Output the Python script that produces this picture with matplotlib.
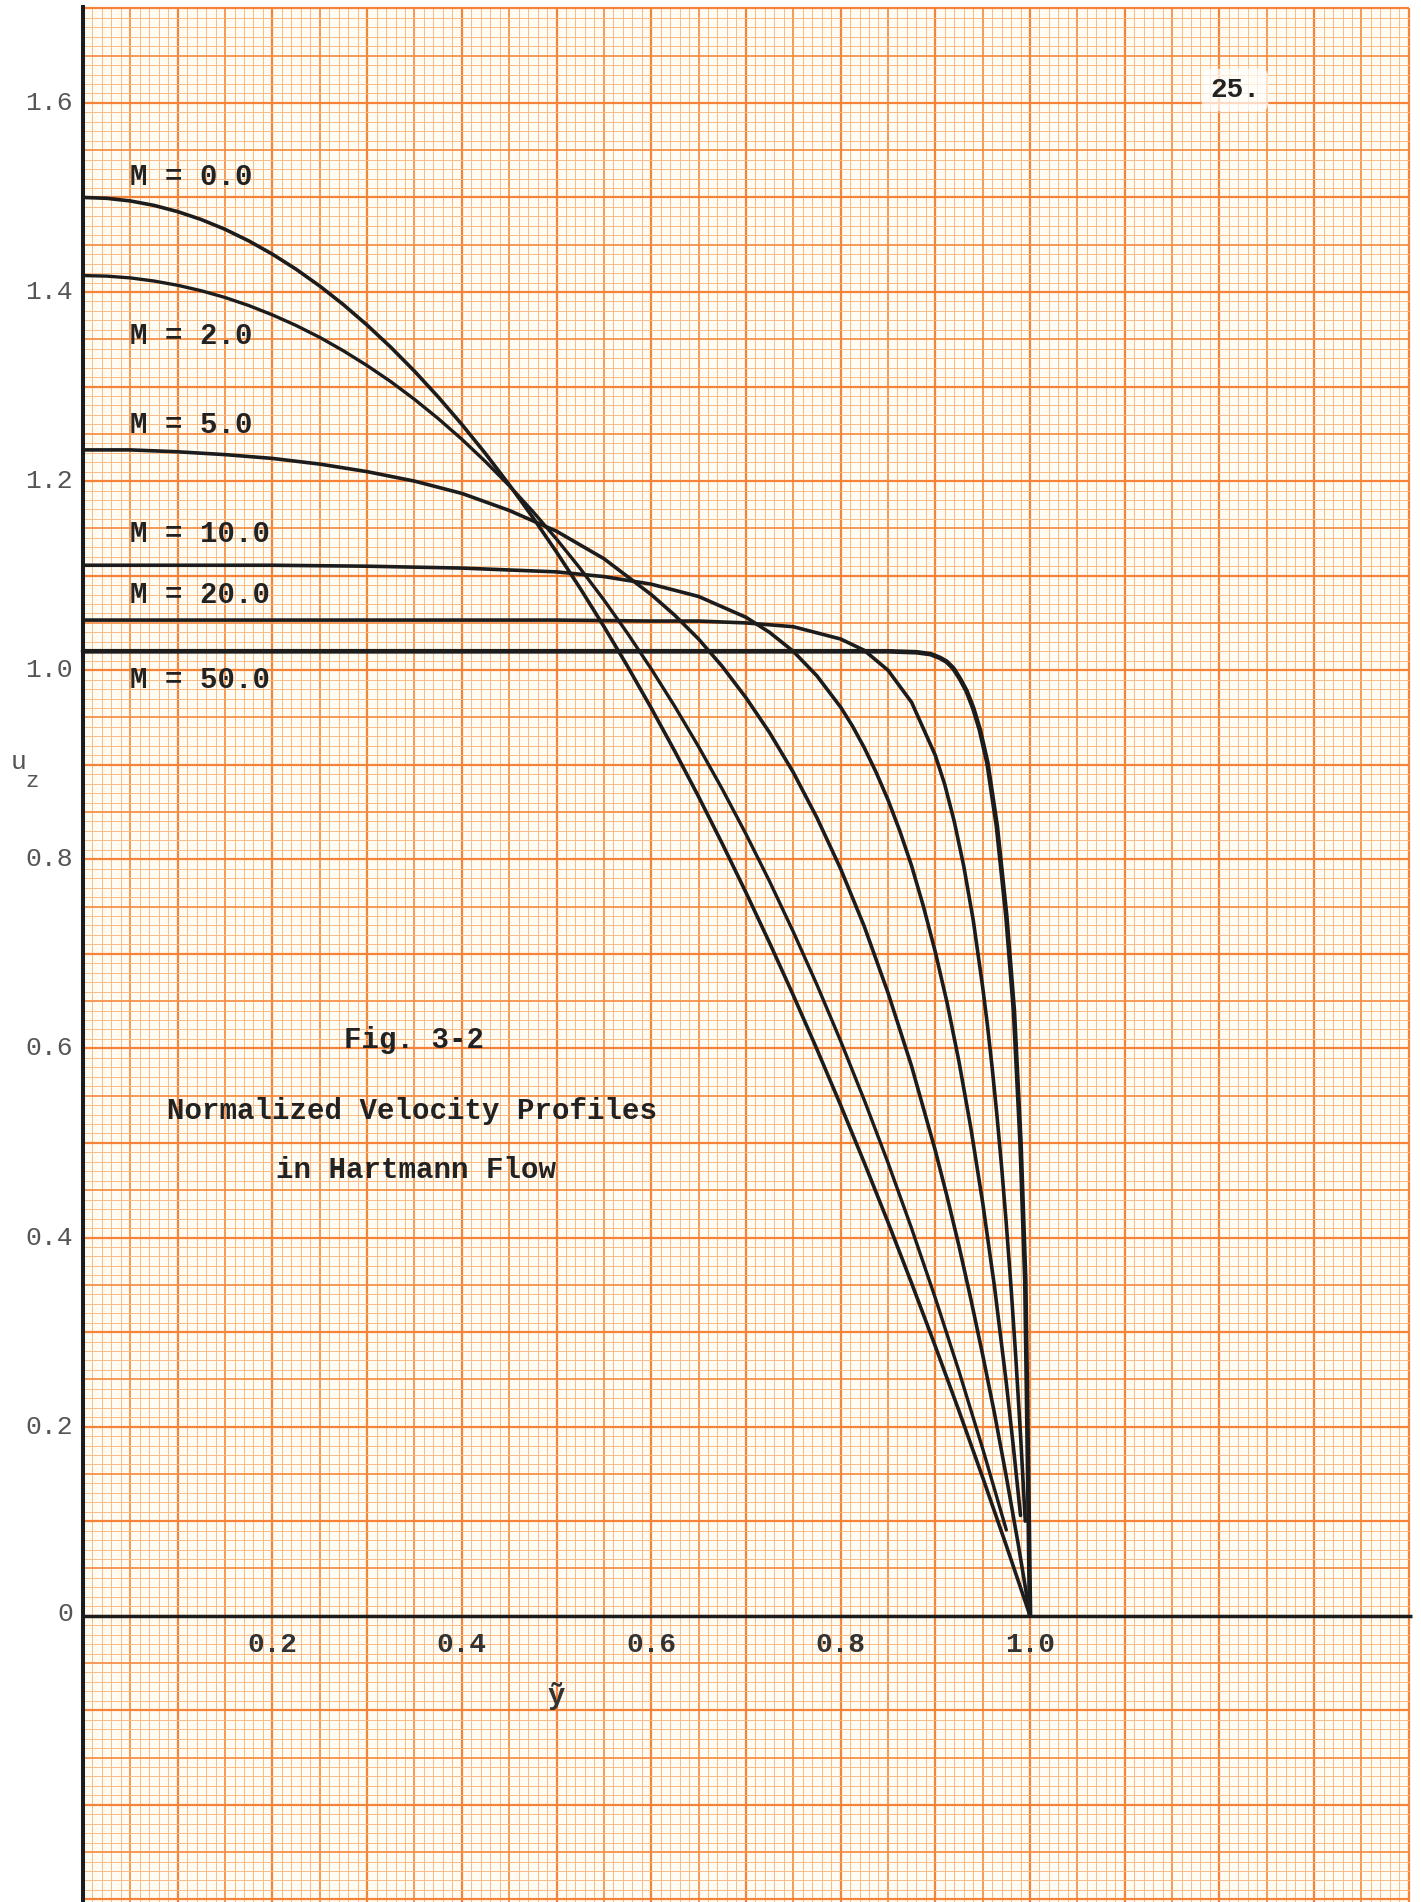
import matplotlib
import matplotlib.pyplot as plt
from matplotlib.patches import Rectangle

matplotlib.use('Agg')

# normalized velocity profiles (y~ vs u_z)
y_m0 = [0, 0.025, 0.05, 0.075, 0.1, 0.125, 0.15, 0.175, 0.2, 0.225, 0.25, 0.275, 0.3, 0.325, 0.35, 0.375, 0.4, 0.425,
        0.45, 0.475, 0.5, 0.525, 0.55, 0.575, 0.6, 0.625, 0.65, 0.675, 0.7, 0.725, 0.75, 0.775, 0.8, 0.825, 0.85,
        0.875, 0.9, 0.925, 0.95, 0.975, 1.0]
u_m0 = [1.5000, 1.4991, 1.4963, 1.4916, 1.4850, 1.4766, 1.4663, 1.4541, 1.4400, 1.4241, 1.4063, 1.3866, 1.3650, 1.3416,
        1.3163, 1.2891, 1.2600, 1.2291, 1.1963, 1.1616, 1.1250, 1.0866, 1.0463, 1.0041, 0.9600, 0.9141, 0.8663, 0.8166,
        0.7650, 0.7116, 0.6563, 0.5991, 0.5400, 0.4791, 0.4163, 0.3516, 0.2850, 0.2166, 0.1463, 0.0741, 0.0000]

y_m2 = [0, 0.025, 0.05, 0.075, 0.1, 0.125, 0.15, 0.175, 0.2, 0.225, 0.25, 0.275, 0.3, 0.325, 0.35, 0.375, 0.4, 0.425,
        0.45, 0.475, 0.5, 0.525, 0.55, 0.575, 0.6, 0.625, 0.65, 0.675, 0.7, 0.725, 0.75, 0.775, 0.8, 0.825, 0.85,
        0.875, 0.9, 0.925, 0.95, 0.975]
u_m2 = [1.4174, 1.4168, 1.4149, 1.4116, 1.4071, 1.4013, 1.3942, 1.3857, 1.3758, 1.3646, 1.3520, 1.3378, 1.3222, 1.3052,
        1.2865, 1.2662, 1.2443, 1.2206, 1.1952, 1.1679, 1.1387, 1.1076, 1.0744, 1.0390, 1.0014, 0.9615, 0.9192, 0.8743,
        0.8268, 0.7766, 0.7234, 0.6673, 0.6079, 0.5453, 0.4792, 0.4095, 0.3360, 0.2585, 0.1768, 0.0907]

y_m5 = [0, 0.05, 0.1, 0.15, 0.2, 0.25, 0.3, 0.35, 0.4, 0.45, 0.5, 0.55, 0.6, 0.625, 0.65, 0.675, 0.7, 0.725,
        0.75, 0.775, 0.8, 0.825, 0.85, 0.875, 0.9, 0.9125, 0.925, 0.9375, 0.95, 0.9625, 0.975, 0.9875, 1.0]
u_m5 = [1.233, 1.233, 1.231, 1.228, 1.224, 1.218, 1.210, 1.200, 1.187, 1.169, 1.147, 1.118, 1.080, 1.058, 1.033, 1.004, 0.971, 0.934,
        0.892, 0.844, 0.790, 0.729, 0.659, 0.581, 0.492, 0.443, 0.391, 0.335, 0.276, 0.214, 0.147, 0.076, 0.000]

y_m10 = [0, 0.1, 0.2, 0.3, 0.4, 0.5, 0.55, 0.6, 0.65, 0.7, 0.725, 0.75, 0.775, 0.8, 0.8125, 0.825, 0.8375, 0.85,
         0.8625, 0.875, 0.8875, 0.9, 0.9125, 0.925, 0.9375, 0.95, 0.9625, 0.975, 0.9825, 0.99]
u_m10 = [1.111, 1.111, 1.111, 1.110, 1.108, 1.104, 1.099, 1.091, 1.078, 1.056, 1.040, 1.020, 0.994, 0.961, 0.941, 0.918, 0.892, 0.863,
         0.830, 0.793, 0.750, 0.702, 0.648, 0.586, 0.516, 0.437, 0.348, 0.246, 0.178, 0.106]

y_m20 = [0, 0.5, 0.6, 0.65, 0.7, 0.75, 0.8, 0.825, 0.85, 0.875, 0.9, 0.91, 0.92, 0.93, 0.94, 0.95, 0.955,
         0.96, 0.965, 0.97, 0.975, 0.98, 0.985, 0.99, 0.995]
u_m20 = [1.053, 1.053, 1.052, 1.052, 1.050, 1.046, 1.033, 1.021, 1.000, 0.966, 0.910, 0.879, 0.840, 0.793, 0.736, 0.665, 0.625,
         0.580, 0.530, 0.475, 0.414, 0.347, 0.273, 0.191, 0.100]

y_m50 = [0, 0.85, 0.88, 0.895, 0.905, 0.912, 0.919, 0.926, 0.933, 0.94, 0.947, 0.955, 0.965, 0.975, 0.983, 0.99, 0.995, 0.998, 1.0]
u_m50 = [1.020, 1.020, 1.019, 1.017, 1.013, 1.009, 1.002, 0.991, 0.978, 0.960, 0.937, 0.902, 0.835, 0.740, 0.640, 0.500, 0.355, 0.150, 0.000]

curves = [(y_m0, u_m0), (y_m2, u_m2), (y_m5, u_m5), (y_m10, u_m10), (y_m20, u_m20), (y_m50, u_m50)]
curve_lw = [2.6, 2.4, 2.6, 2.6, 2.6, 3.4]

m_labels = ['M = 0.0', 'M = 2.0', 'M = 5.0', 'M = 10.0', 'M = 20.0', 'M = 50.0']
m_label_u = [1.522, 1.353, 1.259, 1.144, 1.080, 0.990]

yticks = [0.2, 0.4, 0.6, 0.8, 1.0, 1.2, 1.4, 1.6]
xticks = [0.2, 0.4, 0.6, 0.8, 1.0]

mono = 'Liberation Mono'
ink = '#1c1c1c'

fig = plt.figure(figsize=(14.21, 19.02), dpi=100)
fig.patch.set_facecolor('white')
ax = fig.add_axes([0, 0, 1, 1])
ax.set_xlim(-0.08765, 1.41288)
ax.set_ylim(-0.3028, 1.70883)
ax.axis('off')

# graph paper
x_right = 1.40
u_top = 1.70
u_bot = -0.31
ax.add_patch(Rectangle((0, u_bot), x_right, u_top - u_bot, facecolor='#fffcf3', edgecolor='none', zorder=0))


def paper_style(k):
    if k % 10 == 0:
        return '#f5843a', 1.6
    if k % 5 == 0:
        return '#f6914a', 1.3
    return '#fabb86', 0.7


for k in range(0, 141):
    c, lw = paper_style(k)
    ax.vlines(k * 0.01, u_bot, u_top, colors=c, linewidth=lw, zorder=1)
for k in range(-31, 171):
    c, lw = paper_style(k)
    ax.hlines(k * 0.01, 0, x_right, colors=c, linewidth=lw, zorder=1)

# axes drawn on the paper
ax.plot([0, 0], [u_bot, 1.704], color=ink, linewidth=2.9, zorder=3, solid_capstyle='butt')
ax.plot([0, 1.403], [0, 0], color=ink, linewidth=2.5, zorder=3, solid_capstyle='butt')

for (ys, us), lw in zip(curves, curve_lw):
    ax.plot(ys, us, color=ink, linewidth=lw, zorder=4, solid_joinstyle='round', solid_capstyle='round')

for lab, u in zip(m_labels, m_label_u):
    ax.text(0.0496, u, lab, family=mono, weight='bold', fontsize=21, color='#222222',
            ha='left', va='center', zorder=5)

# tick labels
for v in yticks:
    ax.text(-0.0106, v, '%.1f' % v, family=mono, fontsize=19, color='#555555', ha='right', va='center')
ax.text(-0.0106, 0.002, '0', family=mono, fontsize=19, color='#555555', ha='right', va='center')
for v in xticks:
    ax.text(v, -0.031, '%.1f' % v, family=mono, weight='bold', fontsize=20, color='#333333', ha='center', va='center')

# axis names
ax.text(-0.0676, 0.9025, 'u', family=mono, fontsize=19, color='#555555', ha='center', va='center')
ax.text(-0.0539, 0.8828, 'z', family=mono, fontsize=16, color='#555555', ha='center', va='center')
ax.text(0.4995, -0.085, '\u1ef9', family=[mono, 'DejaVu Sans Mono'], weight='bold', fontsize=21, color='#333333',
        ha='center', va='center')

# caption
ax.text(0.3495, 0.6089, 'Fig. 3-2', family=mono, weight='bold', fontsize=21, color='#222222', ha='center', va='center')
ax.text(0.3474, 0.5336, 'Normalized Velocity Profiles', family=mono, weight='bold', fontsize=21, color='#222222', ha='center', va='center')
ax.text(0.3516, 0.4712, 'in Hartmann Flow', family=mono, weight='bold', fontsize=21, color='#222222', ha='center', va='center')

ax.text(1.2165, 1.6137, '25.', family=mono, weight='bold', fontsize=20, color='#222222', ha='center', va='center',
        bbox=dict(boxstyle='round,pad=0.3', fc='white', ec='none', alpha=0.7), zorder=5)

fig.savefig('out.png', dpi=100, facecolor=fig.get_facecolor())
